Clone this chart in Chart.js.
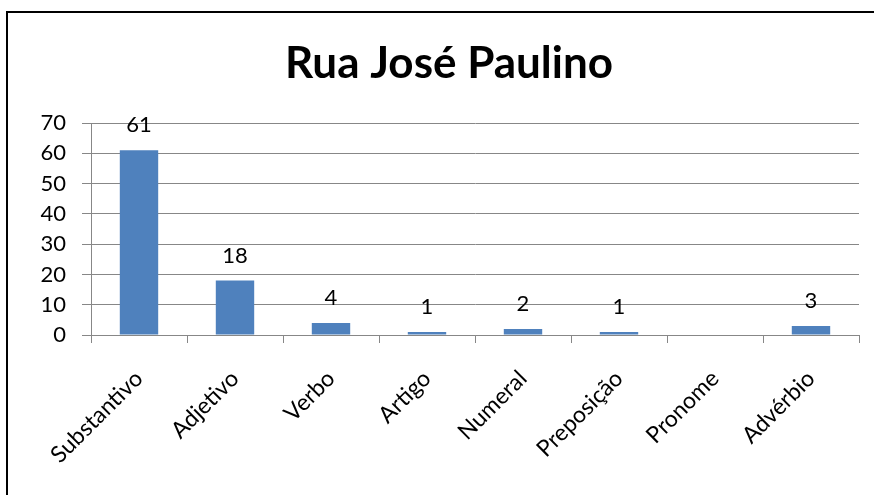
<!DOCTYPE html>
<html>
<head>
<meta charset="utf-8">
<script src="https://cdn.jsdelivr.net/npm/chart.js@4.4.1/dist/chart.umd.min.js"></script>
<style>
  html, body { margin: 0; padding: 0; background: #ffffff; overflow: hidden; }
  #wrap { position: relative; width: 874px; height: 495px; }
</style>
</head>
<body>
<div id="wrap"><canvas id="chart" width="874" height="495"></canvas></div>
<script>
// Word classes counted on the street sign corpus
const chartTitle = 'Rua José Paulino';
const categories = ['Substantivo', 'Adjetivo', 'Verbo', 'Artigo', 'Numeral', 'Preposição', 'Pronome', 'Advérbio'];
const counts = [61, 18, 4, 1, 2, 1, null, 3];
const yTicks = [0, 10, 20, 30, 40, 50, 60, 70];

const FONT = 'Lato, "Noto Sans", sans-serif';
const BAR = '#4F81BD';
const GRID = '#878787';

// Outer frame and title
const framePlugin = {
  id: 'frame',
  beforeDraw(chart) {
    const ctx = chart.ctx;
    ctx.save();
    ctx.fillStyle = '#ffffff';
    ctx.fillRect(0, 0, chart.width, chart.height);
    ctx.strokeStyle = '#000000';
    ctx.lineWidth = 2;
    ctx.strokeRect(7, 12, 2000, 2000);
    ctx.restore();
  },
  afterDraw(chart) {
    const ctx = chart.ctx;
    ctx.save();
    ctx.fillStyle = '#000000';
    ctx.font = 'bold 44px ' + FONT;
    ctx.textAlign = 'center';
    ctx.textBaseline = 'middle';
    ctx.fillText(chartTitle, 449, 64);
    ctx.restore();
  }
};

// Value labels above each bar
const valueLabels = {
  id: 'valueLabels',
  afterDatasetsDraw(chart) {
    const ctx = chart.ctx;
    const meta = chart.getDatasetMeta(0);
    ctx.save();
    ctx.fillStyle = '#000000';
    ctx.font = '22px ' + FONT;
    ctx.textAlign = 'center';
    ctx.textBaseline = 'middle';
    meta.data.forEach((bar, i) => {
      const v = counts[i];
      if (v === null || v === undefined) return;
      ctx.fillText(String(v), bar.x, bar.y - 25);
    });
    ctx.restore();
  }
};

new Chart(document.getElementById('chart'), {
  type: 'bar',
  data: {
    labels: categories,
    datasets: [{
      data: counts,
      backgroundColor: BAR,
      borderWidth: 0,
      categoryPercentage: 1.0,
      barPercentage: 0.4
    }]
  },
  options: {
    responsive: false,
    animation: false,
    devicePixelRatio: 1,
    layout: { padding: { top: 123, right: 15, left: 0, bottom: 0 } },
    plugins: {
      legend: { display: false },
      title: { display: false },
      tooltip: { enabled: false }
    },
    scales: {
      x: {
        grid: {
          offset: true,
          drawOnChartArea: false,
          drawTicks: true,
          tickLength: 8,
          color: GRID
        },
        border: { color: GRID, width: 1 },
        ticks: {
          autoSkip: false,
          minRotation: 45,
          maxRotation: 45,
          padding: 22,
          color: '#000000',
          font: { family: FONT, size: 23 }
        },
        afterFit(scale) { scale.height = 160; }
      },
      y: {
        min: 0,
        max: 70,
        afterBuildTicks(scale) { scale.ticks = yTicks.map(v => ({ value: v })); },
        grid: {
          color: GRID,
          drawTicks: true,
          tickLength: 9
        },
        border: { color: GRID, width: 1 },
        ticks: {
          padding: 16,
          color: '#000000',
          font: { family: FONT, size: 22 }
        },
        afterFit(scale) { scale.width = 91; }
      }
    }
  },
  plugins: [framePlugin, valueLabels]
});
</script>
</body>
</html>
